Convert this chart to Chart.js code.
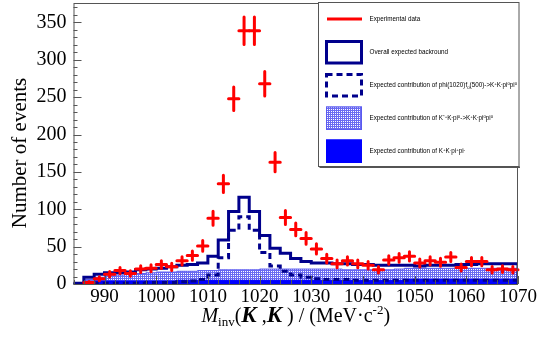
<!DOCTYPE html>
<html>
<head>
<meta charset="utf-8">
<script src="https://cdn.jsdelivr.net/npm/chart.js@4.4.1/dist/chart.umd.min.js"></script>
<style>
  html, body { margin: 0; padding: 0; background: #fff; }
</style>
</head>
<body>
<canvas id="myChart" width="559" height="340"></canvas>
<script>
// 2 MeV bins from 984 to 1070 MeV
const binLo = 984;
const binW = 2;

const expCounts = [null, 2, 7, 13, 18, 14, 20, 21, 26, 23, 31, 38, 51, 88, 134, 248, 339, 339, 268, 163,
  89, 73, 61, 47, 34, 27, 31, 27, 25, 19, 32, 35, 37, 28, 31, 29, 36, 22, 30, 30, 19, 20, 19];
const expErrors = [null, 1.4, 2.6, 3.6, 4.2, 3.7, 4.5, 4.6, 5.1, 4.8, 5.6, 6.2, 7.1, 9.4, 11.6, 15.7, 18.4, 18.4, 16.4, 12.8,
  9.4, 8.5, 7.8, 6.9, 5.8, 5.2, 5.6, 5.2, 5.0, 4.4, 5.7, 5.9, 6.1, 5.3, 5.6, 5.4, 6.0, 4.7, 5.5, 5.5, 4.4, 4.5, 4.4];
const overallBkg = [0, 1, 9, 13, 15, 15, 16, 19, 20, 21, 23, 25, 26, 28, 37, 59, 97, 116, 97, 65,
  48, 41, 34, 30, 28, 28, 27, 27, 26, 26, 25, 25, 25, 25, 24, 25, 25, 25, 26, 26, 27, 27, 27];
const phiF0 = [0, 0, 1, 1, 1, 1, 1, 1, 2, 2, 2, 3, 4, 6, 12, 35, 72, 90, 72, 42,
  24, 17, 12, 9, 7, 6, 6, 6, 5, 5, 5, 5, 5, 5, 5, 5, 5, 5, 5, 5, 5, 5, 5];
const kstarKpi = [0, 1, 6, 9, 11, 12, 13, 14, 15, 16, 16, 17, 17, 18, 18, 19, 19, 19, 19, 20,
  20, 20, 20, 20, 20, 20, 20, 19, 19, 19, 19, 19, 20, 21, 21, 21, 21, 21, 21, 21, 21, 21, 21];
const kkpipi = [0, 1, 3, 4, 4, 4, 4, 4, 4, 4, 4, 5, 5, 5, 5, 5, 5, 5, 5, 5,
  5, 5, 5, 5, 5, 5, 5, 5, 5, 5, 5, 5, 5, 6, 6, 6, 6, 6, 6, 6, 6, 6, 6];

const yTicks = [0, 50, 100, 150, 200, 250, 300, 350];
const xTicks = [990, 1000, 1010, 1020, 1030, 1040, 1050, 1060, 1070];

function histSteps(vals) {
  const pts = vals.map((v, i) => ({ x: binLo + i * binW, y: v }));
  const xEnd = binLo + vals.length * binW;
  pts.push({ x: xEnd, y: vals[vals.length - 1] });
  pts.push({ x: xEnd, y: 0 });
  return pts;
}

const expPoints = [];
expCounts.forEach((v, i) => {
  if (v !== null) expPoints.push({ x: binLo + (i + 0.5) * binW, y: v, err: expErrors[i] });
});

function dotPattern() {
  const c = document.createElement("canvas");
  c.width = 4;
  c.height = 4;
  const g = c.getContext("2d");
  g.fillStyle = "#ffffff";
  g.fillRect(0, 0, 4, 4);
  g.fillStyle = "#6a6af2";
  g.fillRect(0, 0, 4, 1);
  g.fillRect(0, 2, 4, 1);
  g.fillRect(0, 0, 1, 4);
  g.fillRect(2, 0, 1, 4);
  return g.createPattern(c, "repeat");
}
const hatch = dotPattern();
const navy = "#00008c";

// text pieces: [text, font, dy]
function drawPieces(ctx, x, y, pieces) {
  let cx = x;
  pieces.forEach(([t, f, dy]) => {
    ctx.font = f;
    ctx.fillText(t, cx, y + (dy || 0));
    cx += ctx.measureText(t).width;
  });
  return cx - x;
}
function piecesWidth(ctx, pieces) {
  let w = 0;
  pieces.forEach(([t, f]) => {
    ctx.font = f;
    w += ctx.measureText(t).width;
  });
  return w;
}

const LF = '6.3px "Liberation Sans"';
const LS = '4.4px "Liberation Sans"';
const legendRows = [
  { y: 19, sym: "line", text: [["Experimental data", LF]] },
  { y: 52, sym: "box", text: [["Overall expected backround", LF]] },
  { y: 85, sym: "dash", text: [["Expected contribution of phi(1020)f", LF], ["0", LS, 1.8], ["(500)->K", LF], ["+", LS, -2.2],
    ["K", LF], ["-", LS, -2.2], ["pi", LF], ["0", LS, -2.2], ["pi", LF], ["0", LS, -2.2]] },
  { y: 118, sym: "hatch", text: [["Expected contribution of K", LF], ["*+", LS, -2.2], ["K", LF], ["-", LS, -2.2], ["pi", LF], ["0", LS, -2.2],
    ["->K", LF], ["+", LS, -2.2], ["K", LF], ["-", LS, -2.2], ["pi", LF], ["0", LS, -2.2], ["pi", LF], ["0", LS, -2.2]] },
  { y: 151, sym: "fill", text: [["Expected contribution of K", LF], ["+", LS, -2.2], ["K", LF], ["-", LS, -2.2], ["pi", LF], ["+", LS, -2.2],
    ["pi", LF], ["-", LS, -2.2]] },
];

const rootLook = {
  id: "rootLook",
  afterDatasetsDraw(chart) {
    const ctx = chart.ctx;
    const xs = chart.scales.x;
    const ys = chart.scales.y;
    const a = chart.chartArea;
    const meta = chart.getDatasetMeta(0);

    ctx.save();
    ctx.strokeStyle = "#ff0000";
    ctx.lineWidth = 3;
    ctx.lineCap = "round";
    expPoints.forEach((p, k) => {
      const el = meta.data[k];
      ctx.beginPath();
      ctx.moveTo(xs.getPixelForValue(p.x - binW / 2), el.y);
      ctx.lineTo(xs.getPixelForValue(p.x + binW / 2), el.y);
      ctx.moveTo(el.x, ys.getPixelForValue(p.y - p.err));
      ctx.lineTo(el.x, ys.getPixelForValue(p.y + p.err));
      ctx.stroke();
    });
    ctx.restore();

    // frame and inward ticks
    ctx.save();
    ctx.strokeStyle = "#555";
    ctx.lineWidth = 1;
    ctx.strokeRect(a.left + 0.5, a.top + 0.5, a.right - a.left - 1, a.bottom - a.top);
    ctx.beginPath();
    for (let v = 0; v <= ys.max; v += 10) {
      const y = Math.round(ys.getPixelForValue(v)) + 0.5;
      ctx.moveTo(a.left, y);
      ctx.lineTo(a.left + (v % 50 === 0 ? 8 : 4), y);
    }
    for (let v = xs.min; v <= xs.max; v += 2) {
      const x = Math.round(xs.getPixelForValue(v)) + 0.5;
      ctx.moveTo(x, a.bottom);
      ctx.lineTo(x, a.bottom - (v % 10 === 0 ? 8 : 4));
    }
    ctx.stroke();
    ctx.restore();
  },
  afterDraw(chart) {
    const ctx = chart.ctx;
    const a = chart.chartArea;
    ctx.save();
    ctx.fillStyle = "#000";

    // y title
    ctx.save();
    ctx.translate(20, 153);
    ctx.rotate(-Math.PI / 2);
    ctx.textAlign = "center";
    ctx.textBaseline = "middle";
    ctx.font = '21px "Liberation Serif"';
    ctx.fillText("Number of events", 0, 0);
    ctx.restore();

    // x title
    const xt = [
      ["M", 'italic 20px "Liberation Serif"'],
      ["inv", '13px "Liberation Serif"', 4],
      ["(", '20px "Liberation Serif"'],
      ["K", 'italic bold 23px "Liberation Serif"'],
      [" ,", '20px "Liberation Serif"'],
      ["K", 'italic bold 23px "Liberation Serif"'],
      [" ) / (MeV\u00b7c", '20px "Liberation Serif"'],
      ["-2", '13px "Liberation Serif"', -8],
      [")", '20px "Liberation Serif"'],
    ];
    ctx.textBaseline = "alphabetic";
    const w = piecesWidth(ctx, xt);
    drawPieces(ctx, (a.left + a.right) / 2 - w / 2, 322, xt);

    // legend
    const lx = 318.5, ly = 2.5, lw = 200.5, lh = 164;
    ctx.fillStyle = "#fff";
    ctx.fillRect(lx, ly, lw, lh);
    ctx.strokeStyle = "#555";
    ctx.lineWidth = 1;
    ctx.strokeRect(lx, ly, lw, lh);
    ctx.fillStyle = "#555";
    ctx.fillRect(lx + 1, ly + lh, lw, 1.5);

    legendRows.forEach((r) => {
      if (r.sym === "line") {
        ctx.strokeStyle = "#ff0000";
        ctx.lineWidth = 3;
        ctx.beginPath();
        ctx.moveTo(327, r.y);
        ctx.lineTo(362, r.y);
        ctx.stroke();
      } else if (r.sym === "box" || r.sym === "dash") {
        ctx.strokeStyle = navy;
        ctx.lineWidth = 3;
        ctx.setLineDash(r.sym === "dash" ? [6, 4] : []);
        ctx.strokeRect(326.5, r.y - 10.5, 35, 21.5);
        ctx.setLineDash([]);
      } else {
        ctx.fillStyle = r.sym === "hatch" ? hatch : "#0000ff";
        ctx.fillRect(326, r.y - 11.5, 36, 23.5);
        ctx.strokeStyle = r.sym === "hatch" ? "#5a5af0" : "#0000ff";
        ctx.lineWidth = 1;
        ctx.strokeRect(326.5, r.y - 11, 35, 22.5);
      }
      ctx.fillStyle = "#000";
      drawPieces(ctx, 369.5, r.y + 2.2, r.text);
    });
    ctx.restore();
  },
};

new Chart(document.getElementById("myChart"), {
  type: "line",
  data: {
    datasets: [
      {
        label: "Experimental data",
        data: expPoints,
        showLine: false,
        pointRadius: 0,
        order: 0,
      },
      {
        label: "Overall expected backround",
        data: histSteps(overallBkg),
        stepped: "after",
        borderColor: navy,
        borderWidth: 3,
        pointRadius: 0,
        fill: false,
        order: 1,
      },
      {
        label: "phi(1020)f0(500)",
        data: histSteps(phiF0),
        stepped: "after",
        borderColor: navy,
        borderWidth: 3,
        borderDash: [6, 4],
        pointRadius: 0,
        fill: false,
        order: 2,
      },
      {
        label: "KKpipi",
        data: histSteps(kkpipi),
        stepped: "after",
        borderColor: "#0000ff",
        backgroundColor: "#0000ff",
        borderWidth: 1,
        pointRadius: 0,
        fill: "origin",
        order: 3,
      },
      {
        label: "K*K pi",
        data: histSteps(kstarKpi),
        stepped: "after",
        borderColor: "#5a5af0",
        backgroundColor: hatch,
        borderWidth: 1,
        pointRadius: 0,
        fill: "origin",
        order: 4,
      },
    ],
  },
  options: {
    responsive: false,
    animation: false,
    layout: { padding: { top: 3, right: 41, left: 0, bottom: 0 } },
    plugins: {
      legend: { display: false },
      tooltip: { enabled: false },
    },
    scales: {
      x: {
        type: "linear",
        min: binLo,
        max: 1070,
        afterFit: (s) => {
          s.height = 56;
          s.paddingLeft = 0;
          s.paddingRight = 0;
        },
        afterBuildTicks: (s) => { s.ticks = xTicks.map((v) => ({ value: v })); },
        grid: { display: false, drawTicks: false },
        border: { display: false },
        ticks: {
          color: "#000",
          padding: 2,
          maxRotation: 0,
          font: { family: "Liberation Serif", size: 19 },
          callback: (v) => String(v),
        },
      },
      y: {
        min: 0,
        max: 376,
        afterFit: (s) => {
          s.width = 73.5;
          s.paddingTop = 0;
          s.paddingBottom = 0;
        },
        afterBuildTicks: (s) => { s.ticks = yTicks.map((v) => ({ value: v })); },
        grid: { display: false, drawTicks: false },
        border: { display: false },
        ticks: {
          color: "#000",
          padding: 7,
          font: { family: "Liberation Serif", size: 20 },
          callback: (v) => String(v),
        },
      },
    },
  },
  plugins: [rootLook],
});
</script>
</body>
</html>
